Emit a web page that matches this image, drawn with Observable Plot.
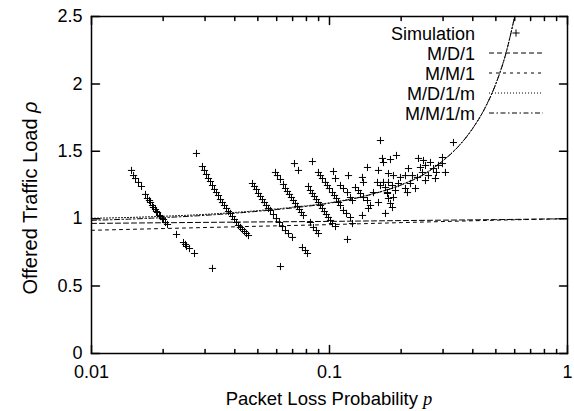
<!DOCTYPE html>
<html><head><meta charset="utf-8">
<script src="https://cdn.jsdelivr.net/npm/d3@7"></script>
<script src="https://cdn.jsdelivr.net/npm/@observablehq/plot@0.6"></script>
<style>body{margin:0;background:#fff}#chart{width:574px;height:411px}</style>
</head><body><div id="chart"></div>
<script>
const xTicks = [0.01, 0.1, 1];
const xMinor = [0.02,0.03,0.04,0.05,0.06,0.07,0.08,0.09,0.2,0.3,0.4,0.5,0.6,0.7,0.8,0.9];
const yTicks = [0, 0.5, 1, 1.5, 2, 2.5];

// Simulation results [p, rho]
const clusterA = [[0.01473,1.358],[0.01502,1.320],[0.01531,1.298],[0.01576,1.269],[0.01622,1.239],[0.01686,1.180],[0.01719,1.150],[0.01753,1.135],[0.01770,1.120],[0.01804,1.098],[0.01822,1.083],[0.01857,1.068],[0.01875,1.053],[0.01894,1.046],[0.01931,1.024],[0.01949,1.016],[0.01987,1.001],[0.02007,0.994],[0.02046,0.972],[0.02086,0.957],
  [0.02276,0.883],[0.02435,0.823],[0.02483,0.809],[0.02507,0.794],[0.02580,0.779],[0.02709,0.742],[0.03224,0.631],[0.02761,1.484]];
const clusterB = [[0.02926,1.387],[0.02983,1.358],[0.03042,1.328],[0.03101,1.298],[0.03162,1.276],[0.03224,1.246],[0.03287,1.217],[0.03351,1.194],[0.03417,1.172],[0.03483,1.142],[0.03551,1.120],[0.03621,1.098],[0.03692,1.076],[0.03764,1.053],[0.03837,1.039],[0.03912,1.016],[0.03989,0.994],[0.04067,0.972],[0.04146,0.950],[0.04227,0.935],[0.04309,0.920],[0.04394,0.905],[0.04479,0.890],[0.04567,0.875]];
const clusterC = [[0.04747,1.261],[0.04840,1.239],[0.04934,1.217],[0.05031,1.187],[0.05129,1.165],[0.05229,1.142],[0.05331,1.120],[0.05435,1.098],[0.05541,1.076],[0.05649,1.061],[0.05816,1.031],[0.05987,1.001],[0.06163,0.972],[0.06344,0.942],[0.06532,0.912],[0.06724,0.890],[0.06989,0.861],[0.07698,0.786],[0.07926,0.764],[0.08080,0.742],[0.06223,0.645]];
const clusterD = [[0.05930,1.343],[0.06045,1.320],[0.06223,1.291],[0.06407,1.254],[0.06532,1.224],[0.06659,1.202],[0.06789,1.180],[0.06921,1.157],[0.07057,1.135],[0.07195,1.113],[0.07335,1.091],[0.07479,1.068],[0.07624,1.046],[0.07774,1.024],[0.08318,0.972],[0.08563,0.935],[0.08815,0.912],[0.08987,0.890],[0.07126,1.409],[0.07407,1.358],[0.08480,1.424]];
const clusterE = [[0.08159,1.239],[0.08318,1.209],[0.08480,1.187],[0.08646,1.165],[0.08815,1.142],[0.08987,1.120],[0.09162,1.098],[0.09341,1.076],[0.09524,1.053],[0.09710,1.031],[0.09900,1.009],[0.10097,0.987],[0.10294,0.964],[0.10598,0.942],[0.11902,0.846]];
const clusterF = [[0.08987,1.343],[0.09162,1.320],[0.09341,1.298],[0.09617,1.269],[0.09805,1.246],[0.09996,1.224],[0.10294,1.194],[0.10496,1.172],[0.10701,1.150],[0.10910,1.120],[0.11122,1.098],[0.11450,1.061],[0.11787,1.039],[0.12252,1.009],[0.10395,1.350]];
const clusterG = [[0.10598,1.298],[0.11122,1.246],[0.11450,1.224],[0.11902,1.194],[0.12252,1.157],[0.12491,1.135],[0.12860,1.231],[0.13238,1.209],[0.13496,1.187],[0.13894,1.157],[0.14442,1.135],[0.12017,1.320],[0.13759,1.306],[0.13894,1.269],[0.14442,1.380],[0.13759,1.024],[0.12491,0.964],[0.14866,1.098],[0.14582,1.076]];
const clusterH = [[0.16376,1.580],[0.16695,1.447],[0.16859,1.417],[0.16063,1.358],[0.15305,1.194],[0.15908,1.269],[0.16376,1.246],[0.16859,1.269],[0.17188,1.231],[0.17524,1.194],[0.17694,1.150],[0.16063,1.120],[0.17188,1.039],[0.18039,1.439],[0.19118,1.469],[0.17694,1.335],[0.18571,1.320],[0.19870,1.306],[0.17694,1.269],[0.18391,1.246],[0.18934,1.209],[0.19491,1.261],[0.17524,1.187],[0.18039,1.113],[0.18391,1.083],[0.18571,1.157]];
const clusterI = [[0.20856,1.320],[0.21470,1.372],[0.22315,1.320],[0.23423,1.306],[0.24111,1.380],[0.23650,1.447],[0.24822,1.432],[0.25307,1.395],[0.24581,1.343],[0.25307,1.283],[0.22974,1.224],[0.21888,1.261],[0.20856,1.224],[0.21263,1.194],[0.26559,1.417],[0.27343,1.372],[0.28147,1.343],[0.28697,1.395],[0.29826,1.454],[0.29826,1.409],[0.30707,1.343],[0.27876,1.298],[0.26051,1.320],[0.33178,1.565]];

// Model curves
const flatP = [0.01, 0.02, 0.05, 0.1, 0.2, 0.5, 1];
const md1Rho = [0.965, 0.970, 0.976, 0.980, 0.986, 0.993, 1.0];
const mm1Rho = [0.914, 0.927, 0.944, 0.956, 0.971, 0.989, 1.0];
const finP = [0.01,0.015,0.02,0.03,0.05,0.07,0.1,0.15,0.2,0.25,0.3,0.35,0.4,0.45,0.5,0.55,0.6];
const md1mRho = [1.003,1.010,1.018,1.032,1.060,1.085,1.118,1.182,1.252,1.332,1.432,1.542,1.672,1.822,2.002,2.222,2.5];
const mm1mRho = [0.988,0.998,1.008,1.025,1.055,1.080,1.115,1.180,1.250,1.330,1.430,1.540,1.670,1.820,2.000,2.220,2.5];

const legendItems = [
  {label: "Simulation", kind: "plus"},
  {label: "M/D/1", dash: "5,3"},
  {label: "M/M/1", dash: "3,4"},
  {label: "M/D/1/m", dash: "1,2"},
  {label: "M/M/1/m", dash: "5,2.5,1.5,2.5"}
];

const sim = [...clusterA, ...clusterB, ...clusterC, ...clusterD, ...clusterE, ...clusterF, ...clusterG, ...clusterH, ...clusterI]
  .map(([p, rho]) => ({p, rho}));
const toRows = (P, R) => P.map((p, i) => ({p, rho: R[i]}));

const plusSymbol = {draw(ctx, size) { const r = Math.sqrt(size / Math.PI); ctx.moveTo(-r, 0); ctx.lineTo(r, 0); ctx.moveTo(0, -r); ctx.lineTo(0, r); }};
const tickShape = {draw(ctx, l) { ctx.moveTo(0, 0); ctx.lineTo(0, -l); }};
const FONT = "'Liberation Sans', Arial, Helvetica, sans-serif";

const chart = Plot.plot({
  width: 574, height: 411,
  marginLeft: 91, marginRight: 7, marginTop: 16, marginBottom: 58,
  x: {type: "log", domain: [0.01, 1]},
  y: {domain: [0, 2.5]},
  style: {fontFamily: FONT, fontSize: "18px", color: "#000", background: "#fff"},
  marks: [
    Plot.line(toRows(flatP, md1Rho), {x: "p", y: "rho", stroke: "#000", strokeWidth: 1, strokeDasharray: "5,3", clip: true}),
    Plot.line(toRows(flatP, mm1Rho), {x: "p", y: "rho", stroke: "#000", strokeWidth: 1, strokeDasharray: "3,4", clip: true}),
    Plot.line(toRows(finP, md1mRho), {x: "p", y: "rho", stroke: "#000", strokeWidth: 1, strokeDasharray: "1,2", curve: "monotone-x", clip: true}),
    Plot.line(toRows(finP, mm1mRho), {x: "p", y: "rho", stroke: "#000", strokeWidth: 1, strokeDasharray: "5,2.5,1.5,2.5", curve: "monotone-x", clip: true}),
    Plot.dot(sim, {x: "p", y: "rho", symbol: plusSymbol, r: 3.6, fill: "none", stroke: "#000", strokeWidth: 1}),
    Plot.frame({stroke: "#000", strokeWidth: 1.5}),
    Plot.vector(xTicks, {x: d => d, y: 0, length: 8, rotate: 0, anchor: "start", shape: tickShape, stroke: "#000"}),
    Plot.vector(xTicks, {x: d => d, y: 2.5, length: 8, rotate: 180, anchor: "start", shape: tickShape, stroke: "#000"}),
    Plot.vector(xMinor, {x: d => d, y: 0, length: 4, rotate: 0, anchor: "start", shape: tickShape, stroke: "#000"}),
    Plot.vector(xMinor, {x: d => d, y: 2.5, length: 4, rotate: 180, anchor: "start", shape: tickShape, stroke: "#000"}),
    Plot.vector(yTicks, {x: 0.01, y: d => d, length: 8, rotate: 90, anchor: "start", shape: tickShape, stroke: "#000"}),
    Plot.vector(yTicks, {x: 1, y: d => d, length: 8, rotate: -90, anchor: "start", shape: tickShape, stroke: "#000"}),
    Plot.axisX({ticks: xTicks, tickSize: 0, tickPadding: 12, tickFormat: d => String(d), label: null}),
    Plot.axisY({ticks: yTicks, tickSize: 0, tickPadding: 9, tickFormat: d => String(d), label: null})
  ]
});
document.getElementById("chart").appendChild(chart);

const svg = d3.select(chart);
// Axis titles
const xt = svg.append("text").attr("x", 329).attr("y", 405).attr("text-anchor", "middle")
  .attr("font-family", FONT).attr("font-size", 18.5).attr("fill", "#000");
xt.append("tspan").text("Packet Loss Probability ");
xt.append("tspan").attr("font-family", "'Liberation Serif', 'Times New Roman', serif").attr("font-style", "italic").text("p");
const yt = svg.append("text").attr("transform", "translate(37,198) rotate(-90)").attr("text-anchor", "middle")
  .attr("font-family", FONT).attr("font-size", 20).attr("fill", "#000");
yt.append("tspan").text("Offered Traffic Load ");
yt.append("tspan").attr("font-style", "italic").text("ρ");

// Legend
const lg = svg.append("g").attr("font-family", FONT).attr("font-size", 18).attr("fill", "#000");
legendItems.forEach((item, i) => {
  const cy = 33 + i * 20;
  lg.append("text").attr("x", 475).attr("y", cy + 6.5).attr("text-anchor", "end").text(item.label);
  if (item.kind === "plus") {
    lg.append("path").attr("d", `M${512.4},${cy}h7.2M${516},${cy - 3.6}v7.2`).attr("stroke", "#000").attr("fill", "none");
  } else {
    lg.append("line").attr("x1", 489).attr("x2", 543).attr("y1", cy).attr("y2", cy)
      .attr("stroke", "#000").attr("stroke-width", 1).attr("stroke-dasharray", item.dash);
  }
});
</script>
</body></html>
